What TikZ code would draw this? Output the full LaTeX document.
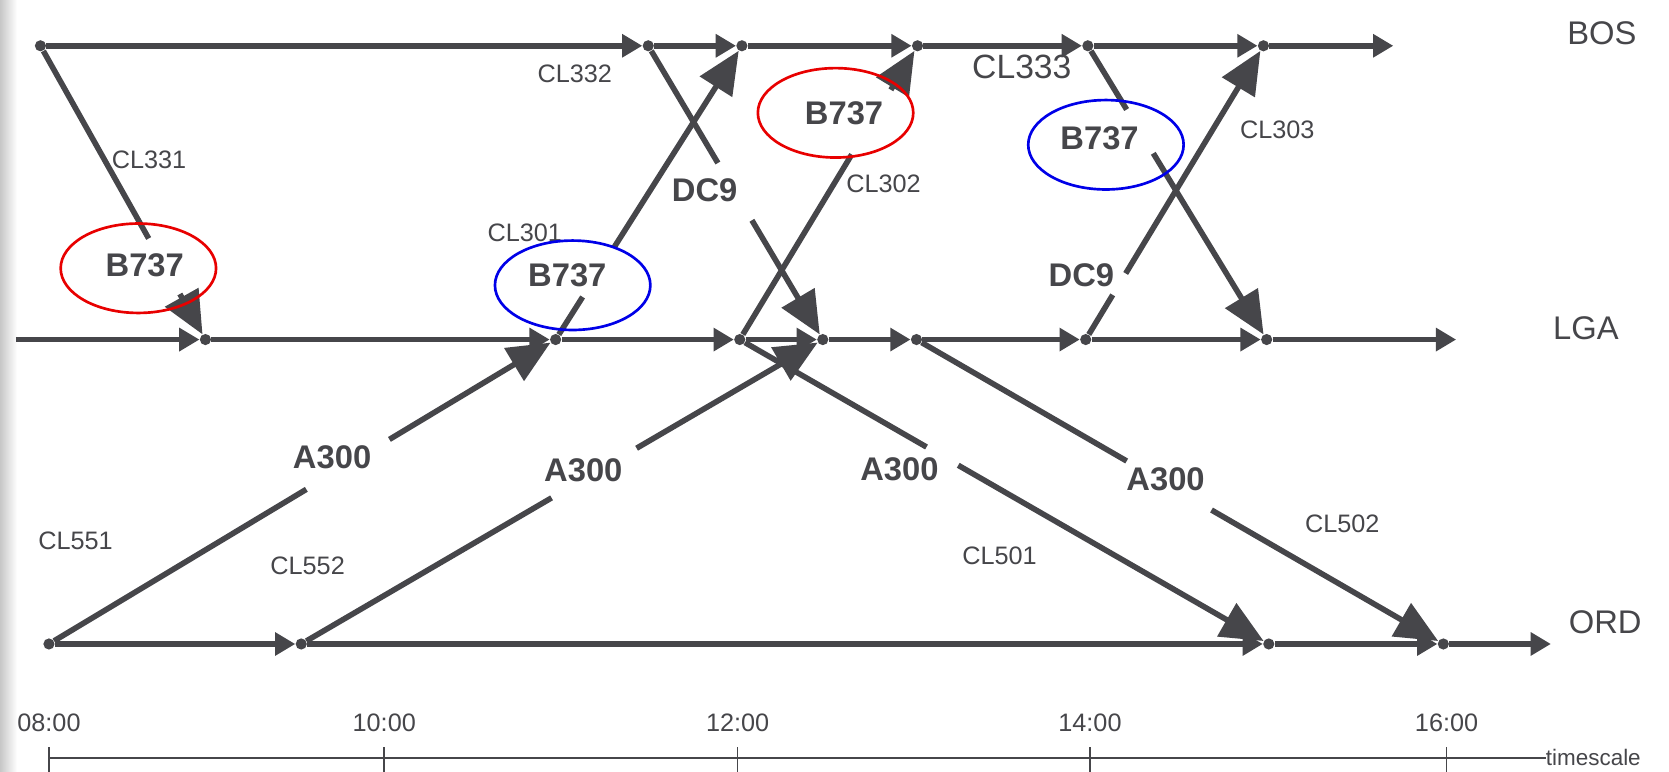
\documentclass[tikz,border=0pt]{standalone}
\usepackage{fontspec}
\setmainfont{Liberation Sans}
\usetikzlibrary{arrows.meta,calc,shapes.geometric}

\definecolor{ink}{RGB}{70,70,74}
\definecolor{penred}{RGB}{232,0,0}
\definecolor{penblue}{RGB}{0,0,232}

\newcommand{\flightarc}[4]{
    \draw[flightline] (#1) -- ($(#1)!#3!(#2)$) ($(#1)!#4!(#2)$) -- (#2);
}
\tikzset{x=0.2mm, y=-0.2mm, every node/.append style={text=ink},
    event/.style={circle, fill=ink, inner sep=0pt, minimum size=2.1mm},
    groundline/.style={line width=1.1mm, draw=ink, -{Triangle[length=3.8mm, width=4.2mm]}},
    flightline/.style={line width=1.05mm, draw=ink, -{Triangle[length=8mm, width=7mm]}},
    axisline/.style={line width=0.32mm, draw=ink},
    flightno/.style={font=\fontsize{13.5}{16}\selectfont},
    actype/.style={font=\bfseries\fontsize{17.5}{20}\selectfont},
    station/.style={font=\fontsize{17.5}{20}\selectfont},
    ring/.style={ellipse, draw=#1, line width=0.5mm, inner sep=0pt, minimum width=29.2mm, minimum height=16.8mm}}

\begin{document}
\begin{tikzpicture}
                \useasboundingbox (0,0) rectangle (1568,725);
                \fill[white] (0,0) rectangle (1568,725);
                \shade[left color=black!22, right color=white] (0,0) rectangle (16,725);

                \foreach \n/\x in {b0/38, b1/609, b2/697, b3/862, b4/1022, b5/1187}
                    \node[event] (\n) at (\x,43) {};
                \foreach \n/\x in {l1/193, l2/522, l3/695, l4/773, l5/861, l6/1020, l7/1190}
                    \node[event] (\n) at (\x,319) {};
                \foreach \n/\x in {o0/46, o1/283, o2/1192, o3/1356}
                    \node[event] (\n) at (\x,605) {};
                \coordinate (bosend) at (1309,43);
                \coordinate (lgastart) at (15,319);
                \coordinate (lgaend) at (1368,319);
                \coordinate (ordend) at (1457,605);

                \foreach \a/\b in {b0/b1, b1/b2, b2/b3, b3/b4, b4/b5, b5/bosend,
                                   lgastart/l1, l1/l2, l2/l3, l3/l4, l4/l5, l5/l6, l6/l7, l7/lgaend,
                                   o0/o1, o1/o2, o2/o3, o3/ordend}
                    \draw[groundline] (\a) -- (\b);

                \flightarc{b0}{l1}{0.656}{0.845}
                \flightarc{b1}{l4}{0.399}{0.594}
                \flightarc{l2}{b2}{0.145}{0.312}
                \flightarc{l3}{b3}{0.63}{0.85}
                \flightarc{b4}{l7}{0.217}{0.366}
                \flightarc{l6}{b5}{0.152}{0.225}
                \flightarc{o0}{l2}{0.508}{0.672}
                \flightarc{o1}{l4}{0.48}{0.643}
                \flightarc{l3}{o2}{0.353}{0.413}
                \flightarc{l5}{o3}{0.399}{0.56}

                \node[station] (bos) at (1505,31) {BOS};
                \node[station] (lga) at (1490,308) {LGA};
                \node[station] (ord) at (1508,585) {ORD};

                \node[flightno] (cl331) at (140,150) {CL331};
                \node[flightno] (cl332) at (540,69) {CL332};
                \node[flightno] (cl301) at (493,219) {CL301};
                \node[flightno] (cl302) at (830,173) {CL302};
                \node[flightno, font=\fontsize{18}{21}\selectfont] (cl333) at (960,63) {CL333};
                \node[flightno] (cl303) at (1200,122) {CL303};
                \node[flightno] (cl551) at (71,508) {CL551};
                \node[flightno] (cl552) at (289,532) {CL552};
                \node[flightno] (cl501) at (939,522) {CL501};
                \node[flightno] (cl502) at (1261,492) {CL502};

                \node[actype] (type331) at (136,249) {B737};
                \node[actype] (type332) at (662,179) {DC9};
                \node[actype] (type301) at (533,259) {B737};
                \node[actype] (type302) at (793,106) {B737};
                \node[actype] (type333) at (1033,130) {B737};
                \node[actype] (type303) at (1016,259) {DC9};
                \node[actype] (type551) at (312,430) {A300};
                \node[actype] (type552) at (548,442) {A300};
                \node[actype] (type501) at (845,441) {A300};
                \node[actype] (type502) at (1095,450) {A300};

                \node[ring=penred] (mark331) at (130,252) {};
                \node[ring=penblue] (mark301) at (538,268) {};
                \node[ring=penred] (mark302) at (785,106) {};
                \node[ring=penblue] (mark333) at (1039,136) {};

                \coordinate (axisstart) at (46,712);
                \node[anchor=west, inner sep=0pt, font=\fontsize{12}{14}\selectfont] (tscale) at (1452,712) {timescale};
                \draw[axisline] (axisstart) -- (tscale.west);
                \foreach \t/\x in {08:00/46, 10:00/361, 12:00/693, 14:00/1024, 16:00/1359}{
                    \draw[axisline] (\x,702) -- (\x,725);
                    \node[flightno] (hour\x) at (\x,679) {\t};
                }
            \end{tikzpicture}
\end{document}
